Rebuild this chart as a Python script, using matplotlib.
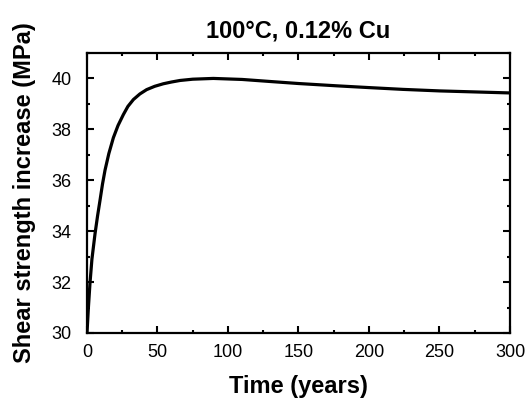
import matplotlib
matplotlib.use('Agg')
import matplotlib.pyplot as plt
from matplotlib.ticker import MultipleLocator

# values
time_years = [0, 1, 2.1, 3.5, 5.7, 7.5, 9.2, 11, 12.8, 15.5, 18.7, 22, 25.8, 29, 32.9,
              37.5, 42.3, 48, 54.1, 60, 66, 75, 89.6, 110, 129.8, 150, 177, 200,
              224, 250, 275, 300]
strength = [30.0, 31.0, 31.94, 32.9, 33.9, 34.6, 35.2, 35.85, 36.4, 37.05, 37.67, 38.15,
            38.58, 38.9, 39.17, 39.39, 39.56, 39.69, 39.79, 39.86, 39.92, 39.97, 40.0,
            39.96, 39.88, 39.80, 39.71, 39.64, 39.57, 39.51, 39.47, 39.43]

plt.rcParams['font.family'] = ['Liberation Sans', 'DejaVu Sans']

fig = plt.figure(figsize=(5.25, 4.05), dpi=100)
ax = fig.add_axes([0.1657, 0.1778, 0.8057, 0.6914])
ax.plot(time_years, strength, 'k', linewidth=2.3, solid_capstyle='butt')

ax.set_xlim(0, 300)
ax.set_ylim(30, 41)
ax.xaxis.set_major_locator(MultipleLocator(50))
ax.xaxis.set_minor_locator(MultipleLocator(25))
ax.yaxis.set_major_locator(MultipleLocator(2))
ax.yaxis.set_minor_locator(MultipleLocator(1))
ax.tick_params(which='both', direction='in', top=True, right=True, width=1.5, labelsize=13)
ax.tick_params(which='major', length=5)
ax.tick_params(which='minor', length=2.5)
ax.tick_params(axis='x', which='major', pad=8)
ax.tick_params(axis='y', which='major', pad=11)
for s in ax.spines.values():
    s.set_linewidth(1.6)

ax.set_xlabel('Time (years)', fontsize=17, fontweight='bold', labelpad=10)
ax.set_ylabel('Shear strength increase (MPa)', fontsize=17, fontweight='bold', labelpad=11)
ax.set_title('100°C, 0.12% Cu', fontsize=17, fontweight='bold', pad=11)

fig.savefig('out.png', dpi=100)
